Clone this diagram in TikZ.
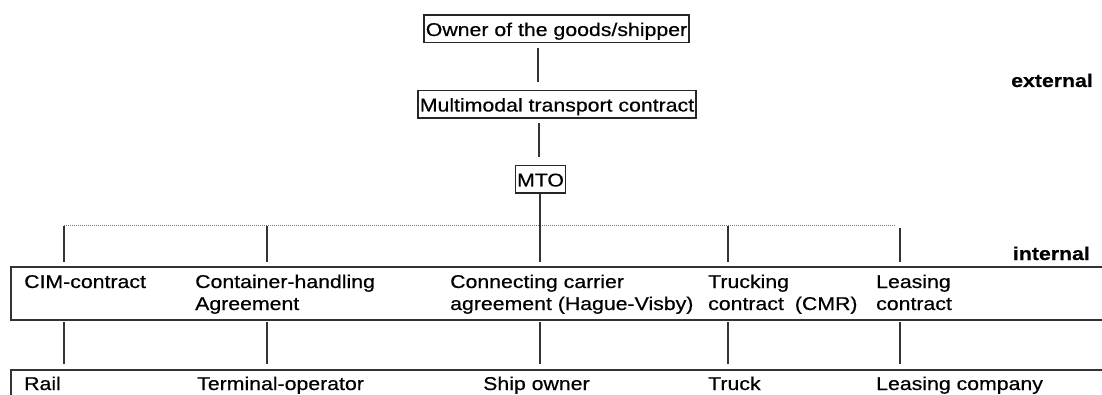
\documentclass[tikz,border=0pt]{standalone}
\usepackage{fontspec}
\setmainfont{Liberation Sans}[FakeStretch=1.15, FakeBold=0.5]
\newcommand{\fs}{\fontsize{18.5}{22}\selectfont}
\newcommand{\tl}[1]{\begin{tabular}[t]{@{}l@{}}#1\end{tabular}}
\begin{document}
\begin{tikzpicture}[x=1pt,y=-1pt,
  tbox/.style={draw, black!85, text=black, line width=1.4pt, inner xsep=1.8pt, inner ysep=2.5pt, text height=18.5pt, text depth=4.2pt, anchor=base, font=\fs},
  bigbox/.style={draw, black!80, line width=1.6pt, inner sep=0pt, anchor=north west},
  lbl/.style={inner sep=0pt, anchor=base west, font=\fs},
  side/.style={inner sep=0pt, anchor=base east, font=\fs\bfseries},
  conn/.style={line width=1.3pt, black!80},
  dotline/.style={line width=1pt, black!55, dash pattern=on 1pt off 1pt}]
\clip (0,0) rectangle (1102,395);
\fill[white] (0,0) rectangle (1102,395);

% top chain
\node[tbox] (owner) at (556.5,36) {Owner of the goods/shipper};
\node[tbox] (mmc) at (557,111.5) {Multimodal transport contract};
\node[tbox] (mto) at (540.5,186.5) {MTO};
\coordinate (a1) at (538,48);
\coordinate (a2) at (538,82);
\coordinate (a3) at (539,123);
\coordinate (a4) at (539,157);
\draw[conn] (a1) -- (a2);
\draw[conn] (a3) -- (a4);

% side labels
\node[side] (ext) at (1093,87) {external};
\node[side] (int) at (1090,260) {internal};

% bus
\coordinate (b1) at (64,226);
\coordinate (b2) at (267,226);
\coordinate (b4) at (728,226);
\coordinate (b5) at (900,228);
\coordinate (bend) at (895,226);
\coordinate (t1) at (64,262);
\coordinate (t2) at (267,262);
\coordinate (t3) at (540,262);
\coordinate (t4) at (728,262);
\coordinate (t5) at (900,262);
\draw[dotline] (b1) -- (bend);
\draw[conn] (mto.south -| t3) -- (t3);
\draw[conn] (b1) -- (t1);
\draw[conn] (b2) -- (t2);
\draw[conn] (b4) -- (t4);
\draw[conn] (b5) -- (t5);

% contract row
\node[bigbox, minimum width=1110pt, minimum height=53pt] (row1) at (10,266) {};
\node[lbl] (cim) at (24,288) {\tl{CIM-contract}};
\node[lbl] (cha) at (195,288) {\tl{Container-handling\\Agreement}};
\node[lbl] (cca) at (450,288) {\tl{Connecting carrier\\agreement (Hague-Visby)}};
\node[lbl] (tru) at (708,288) {\tl{Trucking\\contract\hspace{11pt}(CMR)}};
\node[lbl] (lea) at (876,288) {\tl{Leasing\\contract}};

% lower connectors
\coordinate (u1) at (64,322);
\coordinate (u2) at (267,322);
\coordinate (u3) at (540,322);
\coordinate (u4) at (728,322);
\coordinate (u5) at (900,322);
\coordinate (v1) at (64,364);
\coordinate (v2) at (267,364);
\coordinate (v3) at (540,364);
\coordinate (v4) at (728,364);
\coordinate (v5) at (900,364);
\draw[conn] (u1) -- (v1);
\draw[conn] (u2) -- (v2);
\draw[conn] (u3) -- (v3);
\draw[conn] (u4) -- (v4);
\draw[conn] (u5) -- (v5);

% party row
\node[bigbox, minimum width=1110pt, minimum height=50pt] (row2) at (10,369) {};
\node[lbl] (rail) at (24,390) {Rail};
\node[lbl] (term) at (197,390) {Terminal-operator};
\node[lbl] (ship) at (483,390) {Ship owner};
\node[lbl] (truck) at (708,390) {Truck};
\node[lbl] (lcomp) at (876,390) {Leasing company};
\end{tikzpicture}
\end{document}
